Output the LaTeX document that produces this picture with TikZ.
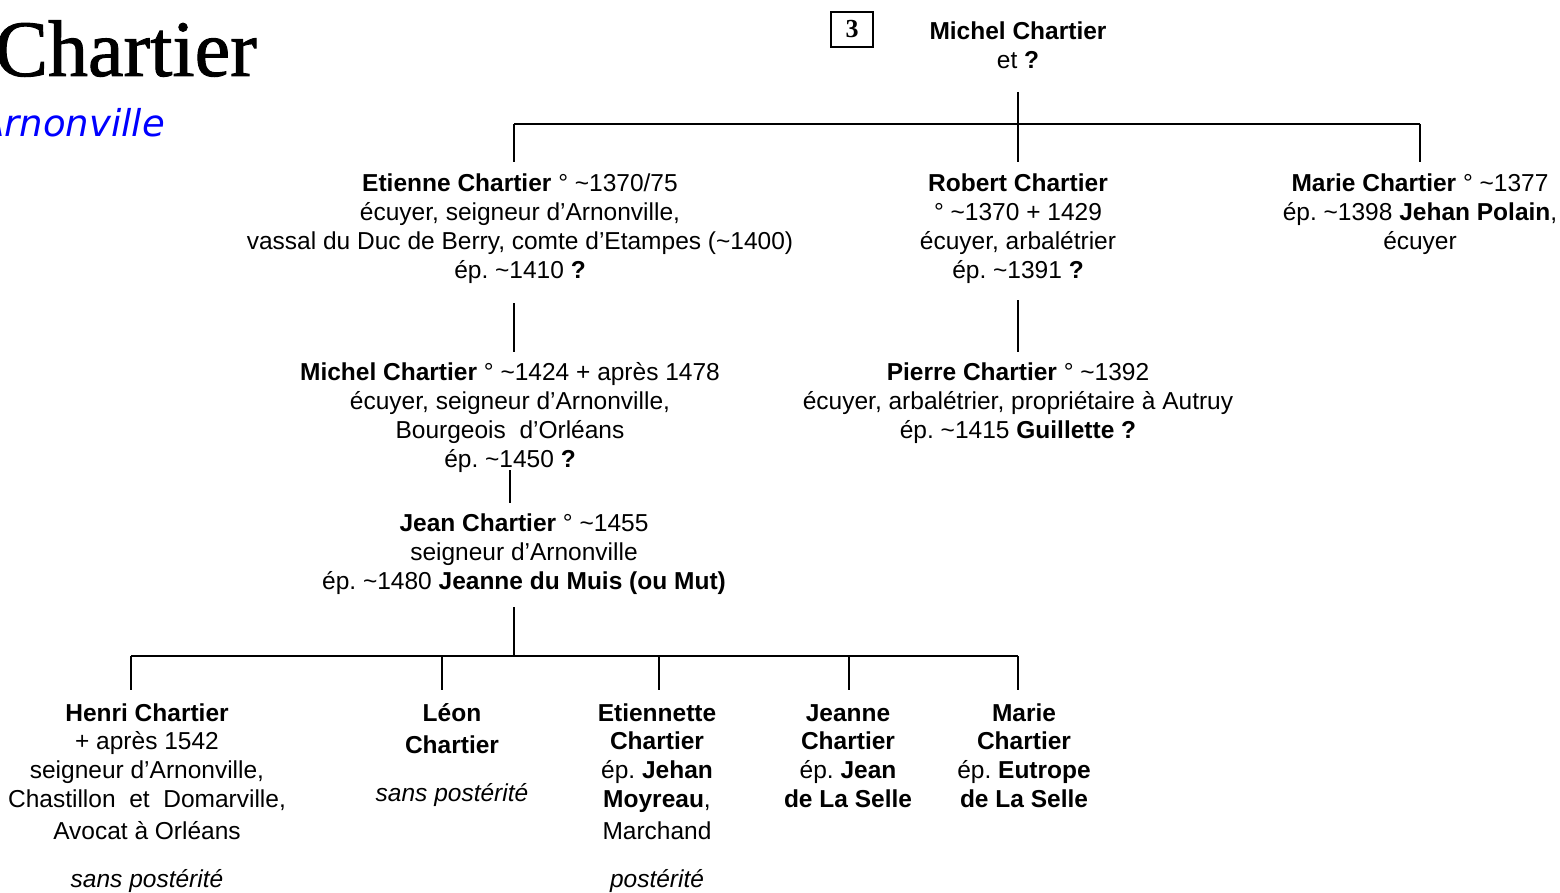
\documentclass[tikz,border=0pt]{standalone}
\usepackage{fontspec}
\setmainfont{Liberation Sans}
\newfontfamily\titlefont[FakeBold=1.2]{Liberation Serif}
\newfontfamily\numfont{Liberation Serif}
\newfontfamily\subfont{DejaVu Sans}
\newcommand\ap{\textasciitilde}
\definecolor{subblue}{RGB}{0,0,255}
\frenchspacing
\begin{document}
\frenchspacing
\begin{tikzpicture}[x=1pt,y=-1pt,
  link/.style={line width=2pt},
  person/.style={align=center, anchor=base, inner sep=0pt, font=\fontsize{24.5}{29}\selectfont\frenchspacing}]
\useasboundingbox (0,0) rectangle (1560,893);
% title
\node[anchor=base east, inner sep=0pt, font=\titlefont\fontsize{80}{90}\selectfont] (title) at (257,76) {Chartier};
\node[anchor=base east, inner sep=0pt, text=subblue, font=\subfont\itshape\fontsize{37}{44}\selectfont] (subtitle) at (165,137) {Arnonville};
% number box
\node[draw, line width=1.5pt, minimum width=42pt, minimum height=35pt, inner sep=0pt, font=\numfont\bfseries\fontsize{26}{30}\selectfont] (num) at (852,29.5) {3};
% people (anchor = baseline of the last line)
\node[person] (top) at (1018,69) {\textbf{Michel Chartier}\\et \textbf{?}};
\node[person] (etienne) at (520,279) {\textbf{Etienne Chartier} ° \ap1370/75\\écuyer, seigneur d’Arnonville,\\vassal du Duc de Berry, comte d’Etampes (\ap1400)\\ép. \ap1410 \textbf{?}};
\node[person] (robert) at (1018,279) {\textbf{Robert Chartier}\\° \ap1370 + 1429\\écuyer, arbalétrier\\ép. \ap1391 \textbf{?}};
\node[person] (marie) at (1420,250) {\textbf{Marie Chartier} ° \ap1377\\ép. \ap1398 \textbf{Jehan Polain},\\écuyer};
\node[person] (michel) at (510,467) {\textbf{Michel Chartier} ° \ap1424 + après 1478\\écuyer, seigneur d’Arnonville,\\Bourgeois\ \ d’Orléans\\ép. \ap1450 \textbf{?}};
\node[person] (pierre) at (1018,438) {\textbf{Pierre Chartier} ° \ap1392\\écuyer, arbalétrier, propriétaire à Autruy\\ép. \ap1415 \textbf{Guillette ?}};
\node[person] (jean) at (524,589) {\textbf{Jean Chartier} ° \ap1455\\seigneur d’Arnonville\\ép. \ap1480 \textbf{Jeanne du Muis (ou Mut)}};
\node[person] (henri) at (147,887) {\textbf{Henri Chartier}\\[-1pt]+ après 1542\\seigneur d’Arnonville,\\Chastillon\ \ et\ \ Domarville,\\[3pt]Avocat à Orléans\\[19pt]\textit{sans postérité}};
\node[person] (leon) at (452,801) {\textbf{Léon}\\[3pt]\textbf{Chartier}\\[19pt]\textit{sans postérité}};
\node[person] (etiennette) at (657,887) {\textbf{Etiennette}\\[-1pt]\textbf{Chartier}\\ép. \textbf{Jehan}\\\textbf{Moyreau},\\[3pt]Marchand\\[19pt]\textit{postérité}};
\node[person] (jeanne) at (848,807) {\textbf{Jeanne}\\[-1pt]\textbf{Chartier}\\ép. \textbf{Jean}\\\textbf{de La Selle}};
\node[person] (marie2) at (1024,807) {\textbf{Marie}\\[-1pt]\textbf{Chartier}\\ép. \textbf{Eutrope}\\\textbf{de La Selle}};
% junction coordinates
\coordinate (t1) at (1018,92);
\coordinate (t2) at (1018,124);
\coordinate (hL) at (514,124);
\coordinate (hR) at (1420,124);
\coordinate (eT) at (514,162);
\coordinate (rT) at (1018,162);
\coordinate (mT) at (1420,162);
\coordinate (eB) at (514,303);
\coordinate (miT) at (514,352);
\coordinate (rB) at (1018,300);
\coordinate (pT) at (1018,352);
\coordinate (miB) at (510,470);
\coordinate (jT) at (510,503);
\coordinate (jB) at (514,607);
\coordinate (c0) at (514,656);
\coordinate (cL) at (131,656);
\coordinate (cR) at (1018,656);
\coordinate (hT) at (131,690);
\coordinate (lT) at (442,690);
\coordinate (etT) at (659,690);
\coordinate (jeT) at (849,690);
\coordinate (m2T) at (1018,690);
% connectors
\draw[link] (t1) -- (t2);
\draw[link] (hL) -- (hR);
\draw[link] (hL) -- (eT);
\draw[link] (t2) -- (rT);
\draw[link] (hR) -- (mT);
\draw[link] (eB) -- (miT);
\draw[link] (rB) -- (pT);
\draw[link] (miB) -- (jT);
\draw[link] (jB) -- (c0);
\draw[link] (cL) -- (cR);
\draw[link] (cL) -- (hT);
\draw[link] (cL -| lT) -- (lT);
\draw[link] (cL -| etT) -- (etT);
\draw[link] (cL -| jeT) -- (jeT);
\draw[link] (cR) -- (m2T);
\end{tikzpicture}
\end{document}
